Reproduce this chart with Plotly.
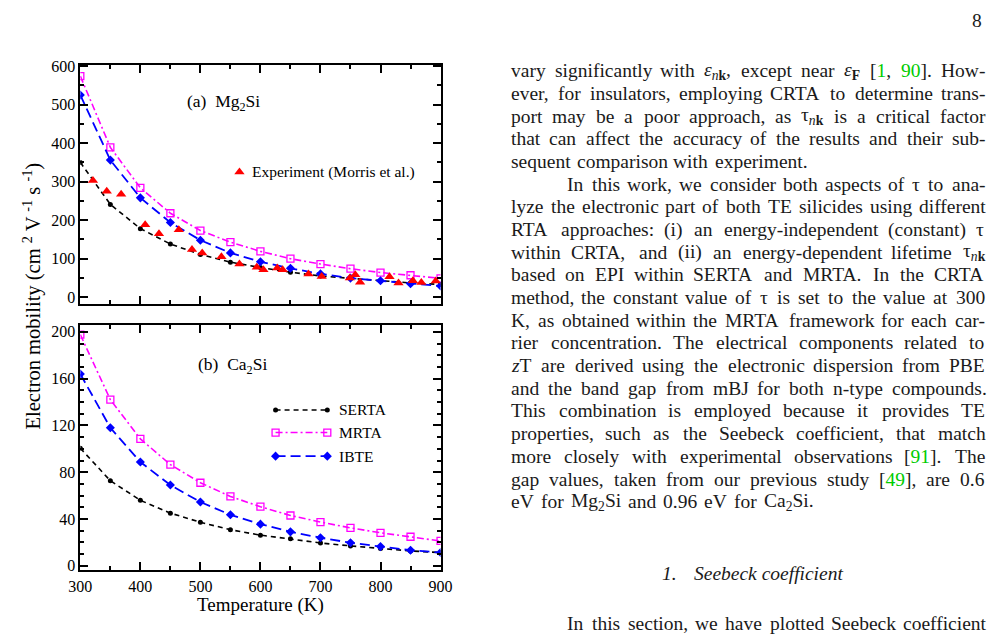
import plotly.graph_objects as go

# ---------------- data ----------------
T = [300, 350, 400, 450, 500, 550, 600, 650, 700, 750, 800, 850, 900]

mg_serta = [350, 241, 178, 138, 111, 91, 77, 65, 55, 48.5, 42.5, 37, 33]
mg_mrta = [574, 389, 284, 218, 173, 143, 119, 100, 86, 74, 64, 57, 49]
mg_ibte = [525, 356, 258, 194, 148, 115, 92, 75, 60.5, 49.5, 42.5, 35, 29]

T_exp = [321, 344, 368, 408, 431, 464, 486, 503, 535, 565, 594, 605, 628, 637,
         680, 702, 749, 758, 766, 815, 830, 854, 868, 892]
mu_exp = [303, 275, 267, 188, 165, 175, 124, 115, 105, 86, 78, 71, 76, 71,
          60, 54, 50, 58, 39, 53, 37, 43, 38, 42]

ca_serta = [100.5, 72.7, 56, 45, 37.2, 30.8, 26.2, 23, 19.5, 17, 14.7, 12.7, 11.3]
ca_mrta = [197.6, 142, 108.5, 86.5, 71, 59.3, 50.5, 43, 37.4, 32.4, 28.2, 24.8, 21.2]
ca_ibte = [164, 118, 88.7, 69, 54.5, 43.6, 35.6, 29, 24, 19.7, 16.4, 13.3, 11.3]

series_names = ["SERTA", "MRTA", "IBTE"]
x_ticks = [300, 400, 500, 600, 700, 800, 900]
y_ticks_top = [0, 100, 200, 300, 400, 500, 600]
y_ticks_bot = [0, 40, 80, 120, 160, 200]

# ---------------- styles ----------------
W, H = 1007, 640
SERIF = "Liberation Serif, Times New Roman, DejaVu Serif, serif"
STY = {
    "SERTA": dict(line=dict(color="black", width=1.6, dash="5px,4px"),
                  marker=dict(symbol="circle", size=5, color="black")),
    "MRTA": dict(line=dict(color="#ff00ff", width=1.6, dash="7px,3px,2px,3px"),
                 marker=dict(symbol="square-open", size=7, color="#ff00ff",
                             line=dict(width=1.3, color="#ff00ff"))),
    "IBTE": dict(line=dict(color="#0000ff", width=1.8, dash="10px,5px"),
                 marker=dict(symbol="diamond", size=7, color="#0000ff")),
}


def px(x):
    return x / W


def py(y):
    return 1 - y / H


fig = go.Figure()

# top panel (Mg2Si)
for name, vals in zip(series_names, [mg_serta, mg_mrta, mg_ibte]):
    fig.add_trace(go.Scatter(x=T, y=vals, mode="lines+markers", name=name,
                             xaxis="x2", yaxis="y2", showlegend=False,
                             **STY[name]))
fig.add_trace(go.Scatter(x=T_exp, y=mu_exp, mode="markers", xaxis="x2", yaxis="y2",
                         showlegend=False,
                         marker=dict(symbol="triangle-up", size=9, color="#ff0000")))

# bottom panel (Ca2Si)
for name, vals in zip(series_names, [ca_serta, ca_mrta, ca_ibte]):
    fig.add_trace(go.Scatter(x=T, y=vals, mode="lines+markers", name=name,
                             xaxis="x", yaxis="y", showlegend=False,
                             **STY[name]))

# manual legend samples (pixel-space helper axis)
leg_y = {"SERTA": 410, "MRTA": 433, "IBTE": 457}
for name in series_names:
    fig.add_trace(go.Scatter(x=[270, 323], y=[leg_y[name]] * 2, mode="lines+markers",
                             xaxis="x3", yaxis="y3", showlegend=False,
                             hoverinfo="skip", **STY[name]))
fig.add_trace(go.Scatter(x=[233], y=[168], mode="markers", xaxis="x3", yaxis="y3",
                         showlegend=False, hoverinfo="skip",
                         marker=dict(symbol="triangle-up", size=9, color="#ff0000")))

axis_common = dict(showline=True, linewidth=2, linecolor="black", mirror="allticks",
                   ticks="inside", ticklen=8, tickwidth=1.5, tickcolor="black",
                   showgrid=False, zeroline=False,
                   tickfont=dict(family=SERIF, size=16, color="black"))
minor_common = dict(ticks="inside", ticklen=4, tickwidth=1.5, tickcolor="black",
                    showgrid=False)

xdom = [px(70), px(439)]
fig.update_layout(
    width=W, height=H, margin=dict(l=0, r=0, t=0, b=0),
    paper_bgcolor="white", plot_bgcolor="rgba(0,0,0,0)",
    xaxis=dict(domain=xdom, range=[300, 900], anchor="y", tickmode="array",
               tickvals=x_ticks, minor=dict(dtick=50, tick0=300, **minor_common),
               **axis_common),
    yaxis=dict(domain=[py(573.3), py(324)], range=[-4, 205.5], anchor="x",
               tickmode="array", tickvals=y_ticks_bot,
               minor=dict(dtick=10, tick0=0, **minor_common), **axis_common),
    xaxis2=dict(domain=xdom, range=[300, 900], anchor="y2", tickmode="array",
                tickvals=x_ticks, showticklabels=False,
                minor=dict(dtick=50, tick0=300, **minor_common), **axis_common),
    yaxis2=dict(domain=[py(302.7), py(59)], range=[-19, 603], anchor="x2",
                tickmode="array", tickvals=y_ticks_top,
                minor=dict(dtick=50, tick0=0, **minor_common), **axis_common),
    xaxis3=dict(domain=[0, 1], range=[0, W], anchor="y3", visible=False,
                fixedrange=True),
    yaxis3=dict(domain=[0, 1], range=[H, 0], anchor="x3", visible=False,
                fixedrange=True),
)

ann = []


def add_text(x, y, text, size, xanchor="left", yanchor="middle", angle=0,
             color="black", family=SERIF):
    ann.append(dict(x=px(x), y=py(y), xref="paper", yref="paper", text=text,
                    showarrow=False, xanchor=xanchor, yanchor=yanchor,
                    textangle=angle, borderpad=0,
                    font=dict(family=family, size=size, color=color)))


# chart labels
add_text(254.5, 608, "Temperature (K)", 19, xanchor="center")
add_text(21, 294, "Electron mobility (cm <sup>2</sup> V <sup>-1</sup> s <sup>-1</sup>)",
         20.5, xanchor="center", angle=-90)
add_text(217, 97, "(a)&nbsp;&nbsp;Mg<sub>2</sub>Si", 17.5, xanchor="center")
add_text(226, 365, "(b)&nbsp;&nbsp;Ca<sub>2</sub>Si", 17.5, xanchor="center")
add_text(245, 168, "Experiment (Morris et al.)", 15.5)
for name in series_names:
    add_text(334, leg_y[name], name, 15.5)

# ---------------- page text ----------------
GREEN = "#00cc00"
TXT = "#1a1a1a"
FS = 19.5


def G(s):
    return "<span style='color:" + GREEN + "'>" + s + "</span>"


EPS_NK = "<i>ε</i><sub><i>n</i><b>k</b></sub>"
TAU_NK = "τ<sub><i>n</i><b>k</b></sub>"

lines = [
    ("vary significantly with " + EPS_NK + ", except near <i>ε</i><sub><b>F</b></sub> ["
     + G("1") + ", " + G("90") + "]. How-", True, 510),
    ("ever, for insulators, employing CRTA to determine trans-", True, 510),
    ("port may be a poor approach, as " + TAU_NK + " is a critical factor", True, 510),
    ("that can affect the accuracy of the results and their sub-", True, 510),
    ("sequent comparison with experiment.", False, 510),
    ("In this work, we consider both aspects of τ to ana-", True, 568),
    ("lyze the electronic part of both TE silicides using different", True, 510),
    ("RTA approaches: (i) an energy-independent (constant) τ", True, 510),
    ("within CRTA, and (ii) an energy-dependent lifetime " + TAU_NK, True, 510),
    ("based on EPI within SERTA and MRTA. In the CRTA", True, 510),
    ("method, the constant value of τ is set to the value at 300", True, 510),
    ("K, as obtained within the MRTA framework for each car-", True, 510),
    ("rier concentration. The electrical components related to", True, 510),
    ("<i>z</i>T are derived using the electronic dispersion from PBE", True, 510),
    ("and the band gap from mBJ for both n-type compounds.", True, 510),
    ("This combination is employed because it provides TE", True, 510),
    ("properties, such as the Seebeck coefficient, that match", True, 510),
    ("more closely with experimental observations [" + G("91") + "].  The", True, 510),
    ("gap values, taken from our previous study [" + G("49") + "], are 0.6", True, 510),
    ("eV for Mg<sub>2</sub>Si and 0.96 eV for Ca<sub>2</sub>Si.", False, 510),
]

CW = {" ": 250, "!": 333, ",": 250, "-": 333, ".": 250, ":": 278, ";": 278,
      "(": 333, ")": 333, "[": 333, "]": 333, "ε": 440, "τ": 440}
for c in "0123456789":
    CW[c] = 500
CW.update(dict(zip("ABCDEFGHIJKLMNOPQRSTUVWXYZ",
                   [722, 667, 667, 722, 611, 556, 722, 722, 333, 389, 722, 611, 889,
                    722, 722, 556, 722, 667, 556, 611, 722, 722, 944, 722, 722, 611])))
CW.update(dict(zip("abcdefghijklmnopqrstuvwxyz",
                   [444, 500, 444, 500, 444, 333, 500, 500, 278, 278, 500, 278, 778,
                    500, 500, 500, 500, 333, 389, 278, 500, 500, 722, 500, 500, 444])))


def split_words(s):
    words, cur, intag = [], "", False
    for ch in s:
        if ch == "<":
            intag = True
        elif ch == ">":
            intag = False
        if ch == " " and not intag:
            if cur:
                words.append(cur)
            cur = ""
        else:
            cur += ch
    if cur:
        words.append(cur)
    return words


def width(s, fs):
    w, scale, i = 0.0, 1.0, 0
    while i < len(s):
        if s[i] == "<":
            j = s.index(">", i)
            tag = s[i + 1:j]
            if tag in ("sub", "sup"):
                scale = 0.7
            elif tag in ("/sub", "/sup"):
                scale = 1.0
            i = j + 1
            continue
        w += CW.get(s[i], 500) * scale
        i += 1
    return w * fs / 1000.0


RIGHT = 995
for k, (line, just, x0) in enumerate(lines):
    yc = 65 + k * 23.07
    words = split_words(line)
    ws = [width(w, FS) for w in words]
    if just and len(words) > 1:
        gap = (RIGHT - x0 - sum(ws)) / (len(words) - 1)
    else:
        gap = 8.0
    x = x0
    for w, wd in zip(words, ws):
        add_text(x, yc, w, FS, color=TXT)
        x += wd + gap

# page number, section heading and following line
add_text(995, 14, "8", FS, xanchor="right", color=TXT)
add_text(665, 576, "<i>1.</i>", FS, color=TXT)
add_text(698, 576, "<i>Seebeck coefficient</i>", FS, color=TXT)
last = "In this section, we have plotted Seebeck coefficient"
words = split_words(last)
ws = [width(w, FS) for w in words]
gap = (RIGHT - 568 - sum(ws)) / (len(words) - 1)
x = 568
for w, wd in zip(words, ws):
    add_text(x, 627, w, FS, color=TXT)
    x += wd + gap

fig.update_layout(annotations=ann)
fig.write_html("out.html")
